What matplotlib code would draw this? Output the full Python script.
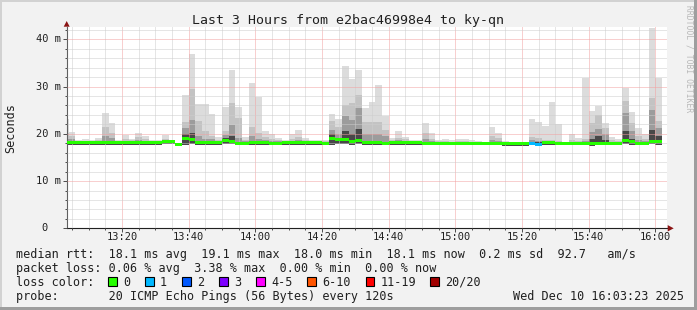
import matplotlib
matplotlib.use('Agg')
import matplotlib.pyplot as plt
import matplotlib.dates as mdates
import matplotlib.transforms as mtrans
from matplotlib.ticker import FixedLocator, MultipleLocator
from matplotlib.patches import Rectangle, Polygon
import pandas as pd
from datetime import datetime

# ---------------- data ----------------
# 2-minute bins starting 13:02 (first one partly visible) through 16:00
bin_start = pd.date_range("2025-12-10 13:02", periods=90, freq="2min")

median_ms = [18.1, 18.1, 18.1, 18.1, 18.1, 18.1, 18.1, 18.1, 18.1, 18.1,
             18.1, 18.1, 18.1, 18.1, 18.1, 18.3, 18.3, 17.8, 19.1, 18.7,
             18.1, 18.1, 18.1, 18.1, 18.6, 18.3, 18.0, 18.0, 18.2, 18.1,
             18.1, 18.0, 18.0, 18.1, 18.1, 18.1, 18.1, 18.1, 18.1, 18.0,
             19.1, 18.7, 18.7, 18.3, 18.6, 18.1, 18.1, 18.1, 18.0, 18.1,
             18.1, 18.1, 18.1, 18.1, 18.0, 18.0, 18.0, 18.0, 18.0, 18.0,
             18.0, 18.0, 18.0, 18.0, 18.0, 18.0, 17.9, 17.9, 17.9, 17.9,
             18.0, 17.8, 18.1, 18.1, 18.0, 18.0, 18.0, 18.0, 18.0, 17.9,
             18.0, 18.0, 18.0, 18.0, 18.5, 18.3, 18.0, 18.0, 18.4, 18.3]

smoke_min = [17.7, 17.7, 17.7, 17.7, 17.7, 17.7, 17.7, 17.7, 17.7, 17.7,
             17.7, 17.7, 17.7, 17.7, 17.7, 17.8, 17.8, 17.5, 17.6, 17.8,
             17.7, 17.7, 17.7, 17.7, 17.8, 17.8, 17.6, 17.6, 17.7, 17.7,
             17.7, 17.6, 17.6, 17.7, 17.7, 17.7, 17.7, 17.7, 17.7, 17.6,
             17.7, 17.8, 17.8, 17.7, 17.8, 17.7, 17.7, 17.7, 17.6, 17.7,
             17.7, 17.7, 17.7, 17.7, 17.6, 17.6, 17.6, 17.6, 17.6, 17.6,
             17.6, 17.6, 17.6, 17.6, 17.6, 17.6, 17.5, 17.5, 17.5, 17.5,
             17.6, 17.4, 17.7, 17.7, 17.6, 17.6, 17.6, 17.6, 17.6, 17.5,
             17.6, 17.6, 17.6, 17.6, 17.8, 17.7, 17.6, 17.6, 17.8, 17.7]

smoke_max = [23.2, 20.4, 18.7, 18.9, 18.7, 19.2, 24.3, 22.2, 18.7, 19.7,
             19.0, 20.1, 19.5, 18.6, 18.7, 19.7, 18.7, 18.0, 28.3, 36.8,
             26.4, 26.4, 24.1, 19.3, 25.6, 33.6, 25.6, 19.4, 30.7, 27.7,
             20.5, 19.9, 19.2, 18.6, 19.9, 20.9, 19.2, 18.6, 18.6, 18.6,
             24.1, 23.1, 34.3, 31.7, 33.5, 25.4, 26.7, 30.3, 23.8, 19.1,
             20.6, 19.4, 18.7, 18.7, 22.2, 20.1, 18.6, 18.8, 18.6, 18.8,
             18.8, 18.6, 18.5, 18.3, 21.5, 20.1, 18.4, 18.2, 18.2, 18.2,
             23.1, 22.5, 21.7, 26.7, 22.1, 18.2, 20.0, 19.1, 31.8, 24.8,
             25.9, 22.2, 19.3, 18.8, 29.7, 24.6, 21.2, 20.0, 42.3, 31.8]

smoke_upper = [20.2, 19.5, 18.4, 18.5, 18.4, 18.6, 21.4, 20.2, 18.4, 18.8,
               18.6, 19.4, 18.8, 18.4, 18.4, 18.9, 18.5, 17.9, 22.5, 29.5,
               22.7, 20.5, 19.5, 18.7, 20.7, 26.6, 23.3, 18.7, 21.5, 20.2,
               19.3, 18.9, 18.7, 18.4, 19.0, 19.4, 18.7, 18.4, 18.4, 18.4,
               22.8, 21.5, 26.2, 26.5, 28.3, 22.5, 22.5, 22.5, 20.8, 18.7,
               19.2, 18.8, 18.4, 18.4, 20.1, 19.0, 18.4, 18.4, 18.3, 18.4,
               18.4, 18.3, 18.3, 18.2, 19.6, 19.1, 18.2, 18.1, 18.1, 18.1,
               19.4, 19.1, 18.7, 18.6, 18.5, 18.1, 18.6, 18.5, 18.8, 22.3,
               23.9, 21.3, 18.6, 18.4, 27.0, 22.3, 19.6, 18.8, 27.6, 22.7]

smoke_mid = [19.0, 18.9, 18.3, 18.3, 18.3, 18.4, 19.6, 19.2, 18.3, 18.5,
             18.4, 18.7, 18.5, 18.3, 18.3, 18.6, 18.4, 17.9, 21.2, 23.0,
             19.5, 19.0, 18.8, 18.4, 19.8, 21.8, 19.2, 18.4, 19.5, 19.0,
             18.7, 18.5, 18.4, 18.3, 18.5, 18.7, 18.4, 18.3, 18.3, 18.3,
             20.9, 19.9, 23.7, 23.0, 25.5, 20.0, 20.0, 20.0, 19.5, 18.4,
             18.6, 18.4, 18.3, 18.3, 19.0, 18.5, 18.2, 18.2, 18.2, 18.2,
             18.2, 18.2, 18.2, 18.1, 18.6, 18.5, 18.1, 18.0, 18.0, 18.0,
             18.6, 18.5, 18.4, 18.4, 18.3, 18.0, 18.3, 18.3, 18.4, 20.4,
             21.0, 20.0, 18.3, 18.2, 24.5, 20.5, 18.7, 18.4, 25.1, 21.3]

smoke_low = [18.3, 18.3, 18.2, 18.2, 18.2, 18.2, 18.4, 18.3, 18.2, 18.3,
             18.2, 18.3, 18.3, 18.2, 18.2, 18.4, 18.3, 17.8, 20.0, 20.2,
             18.4, 18.3, 18.3, 18.2, 19.2, 19.5, 18.3, 18.2, 18.4, 18.3,
             18.3, 18.2, 18.2, 18.2, 18.2, 18.3, 18.2, 18.2, 18.2, 18.1,
             19.9, 19.1, 20.5, 20.0, 21.0, 18.4, 18.4, 18.4, 18.3, 18.2,
             18.3, 18.2, 18.2, 18.2, 18.2, 18.2, 18.1, 18.1, 18.1, 18.1,
             18.1, 18.1, 18.1, 18.1, 18.3, 18.2, 18.0, 18.0, 18.0, 18.0,
             18.3, 18.2, 18.2, 18.2, 18.2, 18.0, 18.1, 18.1, 18.2, 18.9,
             19.5, 18.6, 18.2, 18.1, 20.5, 19.0, 18.3, 18.2, 20.9, 19.5]

loss_count = [0] * 70 + [1, 1] + [0] * 18

loss_labels = ["0", "1", "2", "3", "4-5", "6-10", "11-19", "20/20"]
loss_colors = ["#26ff00", "#00b8ff", "#0059ff", "#7e00ff",
               "#ff00ff", "#ff5500", "#ff0000", "#a10000"]

xtick_times = ["13:20", "13:40", "14:00", "14:20", "14:40", "15:00", "15:20", "15:40", "16:00"]
ytick_values = [0, 10, 20, 30, 40]
ytick_labels = ["0", "10 m", "20 m", "30 m", "40 m"]

title = "Last 3 Hours from e2bac46998e4 to ky-qn"
rtt_avg, rtt_max, rtt_min, rtt_now, rtt_sd, am_s = 18.1, 19.1, 18.0, 18.1, 0.2, 92.7
loss_avg, loss_max, loss_min, loss_now = 0.06, 3.38, 0.00, 0.00
probe_text = "20 ICMP Echo Pings (56 Bytes) every 120s"
stamp = "Wed Dec 10 16:03:23 2025"

# ---------------- figure ----------------
W, H = 697, 310
fig = plt.figure(figsize=(W / 100, H / 100), dpi=100)
fig.patch.set_facecolor('#f2f2f2')
MONO = 'DejaVu Sans Mono'


def fx(px):
    return px / W


def fy(py):
    return 1 - py / H


X0, X1, YT, YB = 66.7, 666.7, 26.7, 228.3
ax = fig.add_axes([fx(X0), fy(YB), (X1 - X0) / W, (YB - YT) / H])
ax.set_facecolor('white')

xs = mdates.date2num(bin_start.to_pydatetime())
bw = 2 / 1440.0

layers = [(smoke_min, smoke_max, '#dcdcdc'),
          (smoke_min, smoke_upper, '#c3c3c3'),
          (smoke_min, smoke_mid, '#9c9c9c'),
          (smoke_min, smoke_low, '#484848')]
for lo, hi, col in layers:
    ax.bar(xs, [h - l for h, l in zip(hi, lo)], bottom=lo, width=bw, align='edge',
           color=col, linewidth=0, antialiased=False, zorder=1)

half = 0.32
mcol = [loss_colors[0] if n == 0 else loss_colors[min(n, 3)] for n in loss_count]
ax.bar(xs, [2 * half] * len(xs), bottom=[m - half for m in median_ms], width=bw,
       align='edge', color=mcol, linewidth=0, antialiased=False, zorder=3)

ax.set_xlim(datetime(2025, 12, 10, 13, 3, 23), datetime(2025, 12, 10, 16, 3, 23))
ax.set_ylim(0, 42.67)

ax.xaxis.set_major_locator(mdates.MinuteLocator(byminute=[0, 20, 40]))
ax.xaxis.set_minor_locator(mdates.MinuteLocator(byminute=range(0, 60, 5)))
ax.yaxis.set_major_locator(FixedLocator(ytick_values))
ax.yaxis.set_minor_locator(MultipleLocator(2))
ax.set_axisbelow(False)
ax.grid(which='major', color='#f3a0a0', linestyle=(0, (1, 1)), linewidth=0.72)
ax.grid(which='minor', color='#cdcdcd', linestyle=(0, (1, 1)), linewidth=0.72)
ax.tick_params(which='both', labelbottom=False, labelleft=False, direction='out',
               color='#505050', width=0.72)
ax.tick_params(which='major', length=3)
ax.tick_params(which='minor', length=1.5)
for s in ['top', 'right']:
    ax.spines[s].set_visible(False)
ax.spines['left'].set_color('#606060')
ax.spines['bottom'].set_color('#202020')
ax.spines['left'].set_linewidth(0.8)
ax.spines['bottom'].set_linewidth(0.8)

# axis arrows
fig.add_artist(Polygon([(fx(X0 - 3), fy(YT)), (fx(X0 + 3), fy(YT)), (fx(X0), fy(21))],
                       closed=True, transform=fig.transFigure, color='#8b1414', lw=0))
fig.add_artist(Polygon([(fx(X1 + 1), fy(YB - 3.2)), (fx(X1 + 1), fy(YB + 3.2)), (fx(X1 + 7), fy(YB))],
                       closed=True, transform=fig.transFigure, color='#8b1414', lw=0))

# tick labels
trans_x = mtrans.blended_transform_factory(ax.transData, fig.transFigure)
for lab in xtick_times:
    t = datetime(2025, 12, 10, int(lab[:2]), int(lab[3:]))
    ax.text(mdates.date2num(t), fy(240.5), lab, transform=trans_x, ha='center', va='baseline',
            fontsize=7.5, family=MONO, color='#202020')
trans_y = mtrans.blended_transform_factory(fig.transFigure, ax.transData)
for v, lab in zip(ytick_values, ytick_labels):
    if lab.strip() == "0":
        ax.text(fx(44), v, lab, transform=trans_y, ha='center', va='center',
                fontsize=7.5, family=MONO, color='#202020')
    else:
        ax.text(fx(60.5), v, lab, transform=trans_y, ha='right', va='center',
                fontsize=7.5, family=MONO, color='#202020')

# title / labels
fig.text(fx(348), fy(24), title, ha='center', va='baseline', fontsize=9.5, family=MONO, color='#202020')
fig.text(fx(11), fy(128), "Seconds", rotation=90, ha='center', va='center', fontsize=8.5,
         family=MONO, color='#202020')
fig.text(fx(688.5), fy(5), "RRDTOOL / TOBI OETIKER", rotation=270, ha='center', va='top',
         fontsize=5.8, family=MONO, color='#b8b8b8')

row1 = (f"median rtt:  {rtt_avg:.1f} ms avg  {rtt_max:.1f} ms max  {rtt_min:.1f} ms min  "
        f"{rtt_now:.1f} ms now  {rtt_sd:.1f} ms sd  {am_s:.1f}   am/s")
row2 = (f"packet loss: {loss_avg:.2f} % avg  {loss_max:.2f} % max  {loss_min:.2f} % min  "
        f"{loss_now:.2f} % now")
kw = dict(fontsize=8.5, family=MONO, color='#202020', va='baseline', ha='left')
fig.text(fx(16), fy(257.7), row1, **kw)
fig.text(fx(16), fy(271.7), row2, **kw)
fig.text(fx(16), fy(285.7), "loss color:", **kw)
fig.text(fx(16), fy(299.7), "probe:       " + probe_text, **kw)
fig.text(fx(513.3), fy(299.7), stamp, **kw)

box_x = [108, 145, 182, 219, 256, 307.3, 365.7, 430]
for bx, lab, col in zip(box_x, loss_labels, loss_colors):
    fig.add_artist(Rectangle((fx(bx), fy(285.7)), 8.5 / W, 9 / H, transform=fig.transFigure,
                             facecolor=col, edgecolor='black', linewidth=0.8))
    fig.text(fx(bx + 15), fy(285.7), lab, **kw)

# frame
fig.add_artist(Rectangle((0, 0), 1, 3 / H, transform=fig.transFigure, color='#9e9e9e', lw=0))
fig.add_artist(Rectangle((1 - 3 / W, 0), 3 / W, 1, transform=fig.transFigure, color='#9e9e9e', lw=0))
fig.add_artist(Rectangle((0, 1 - 2 / H), 1 - 3 / W, 2 / H, transform=fig.transFigure, color='#d2d2d2', lw=0))
fig.add_artist(Rectangle((0, 3 / H), 2 / W, 1 - 5 / H, transform=fig.transFigure, color='#d2d2d2', lw=0))

fig.savefig('out.png', dpi=100, facecolor=fig.get_facecolor())
